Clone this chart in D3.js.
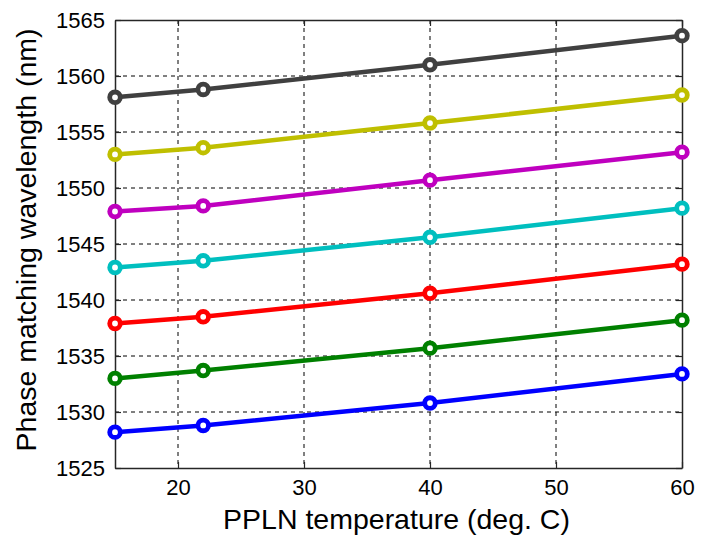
<!DOCTYPE html>
<html>
<head>
<meta charset="utf-8">
<script src="https://cdn.jsdelivr.net/npm/d3@7"></script>
<style>
  html, body { margin: 0; padding: 0; background: #fff; }
  svg { display: block; }
  text { font-family: Arial, "Liberation Sans", sans-serif; fill: #000; }
</style>
</head>
<body>
<svg id="chart" width="712" height="535"></svg>
<script>
// ---- data ----
const temperatures = [15, 22, 40, 60];
const seriesBlue    = [1528.2, 1528.8, 1530.8, 1533.4];
const seriesGreen   = [1533.0, 1533.7, 1535.7, 1538.2];
const seriesRed     = [1537.9, 1538.5, 1540.6, 1543.2];
const seriesCyan    = [1542.9, 1543.5, 1545.6, 1548.2];
const seriesMagenta = [1547.9, 1548.4, 1550.7, 1553.2];
const seriesYellow  = [1553.0, 1553.6, 1555.8, 1558.3];
const seriesBlack   = [1558.1, 1558.8, 1561.0, 1563.6];
const seriesColors  = ["#0000ff", "#008000", "#ff0000", "#00bfbf", "#bf00bf", "#bfbf00", "#404040"];
const xTicks = [20, 30, 40, 50, 60];
const yTicks = [1525, 1530, 1535, 1540, 1545, 1550, 1555, 1560, 1565];
const xLabel = "PPLN temperature (deg. C)";
const yLabel = "Phase matching wavelength (nm)";

const allSeries = [seriesBlue, seriesGreen, seriesRed, seriesCyan, seriesMagenta, seriesYellow, seriesBlack];

// ---- layout ----
const margin = {left: 115, right: 30, top: 20, bottom: 67};
const W = 712, H = 535;
const iw = W - margin.left - margin.right;
const ih = H - margin.top - margin.bottom;

const svg = d3.select("#chart");
const g = svg.append("g").attr("transform", `translate(${margin.left},${margin.top})`);

const x = d3.scaleLinear().domain([15, 60]).range([0, iw]);
const y = d3.scaleLinear().domain([1525, 1565]).range([ih, 0]);

// grid
g.append("g").selectAll("line").data(xTicks.filter(t => t > 15 && t < 60)).join("line")
  .attr("x1", d => x(d)).attr("x2", d => x(d)).attr("y1", 0).attr("y2", ih)
  .attr("stroke", "#000").attr("stroke-width", 1).attr("stroke-dasharray", "4,4");
g.append("g").selectAll("line").data(yTicks.filter(t => t > 1525 && t < 1565)).join("line")
  .attr("x1", 0).attr("x2", iw).attr("y1", d => y(d)).attr("y2", d => y(d))
  .attr("stroke", "#000").attr("stroke-width", 1).attr("stroke-dasharray", "4,4");

// axes (ticks inside, on all four sides)
const tl = 6;
const xb = g.append("g").attr("transform", `translate(0,${ih})`)
  .call(d3.axisBottom(x).tickValues(xTicks).tickSizeInner(-tl).tickSizeOuter(0).tickPadding(11));
const xt = g.append("g")
  .call(d3.axisTop(x).tickValues(xTicks).tickSizeInner(-tl).tickSizeOuter(0).tickFormat(""));
const yl = g.append("g")
  .call(d3.axisLeft(y).tickValues(yTicks).tickSizeInner(-tl).tickSizeOuter(0).tickPadding(10).tickFormat(d3.format("d")));
const yr = g.append("g").attr("transform", `translate(${iw},0)`)
  .call(d3.axisRight(y).tickValues(yTicks).tickSizeInner(-tl).tickSizeOuter(0).tickFormat(""));
[xb, xt, yl, yr].forEach(a => {
  a.select(".domain").attr("stroke", "#262626").attr("stroke-width", 1.5);
  a.selectAll(".tick line").attr("stroke", "#262626").attr("stroke-width", 1.2);
  a.selectAll("text").attr("font-size", 22).attr("font-family", "Arial, 'Liberation Sans', sans-serif").attr("fill", "#000");
});

// series
const line = d3.line().x((d, i) => x(temperatures[i])).y(d => y(d));
allSeries.forEach((s, k) => {
  const col = seriesColors[k];
  g.append("path").datum(s).attr("d", line)
    .attr("fill", "none").attr("stroke", col).attr("stroke-width", 4.5)
    .attr("stroke-linejoin", "round");
  g.append("g").selectAll("circle").data(s).join("circle")
    .attr("cx", (d, i) => x(temperatures[i])).attr("cy", d => y(d))
    .attr("r", 5.3).attr("fill", "#fff").attr("stroke", col).attr("stroke-width", 4.8);
});

// labels
svg.append("text").attr("x", margin.left + iw / 2 - 2).attr("y", 529)
  .attr("text-anchor", "middle").attr("font-size", 28.5).text(xLabel);
svg.append("text").attr("transform", `translate(36,${margin.top + ih / 2 - 4}) rotate(-90)`)
  .attr("text-anchor", "middle").attr("font-size", 28.5).text(yLabel);
</script>
</body>
</html>
